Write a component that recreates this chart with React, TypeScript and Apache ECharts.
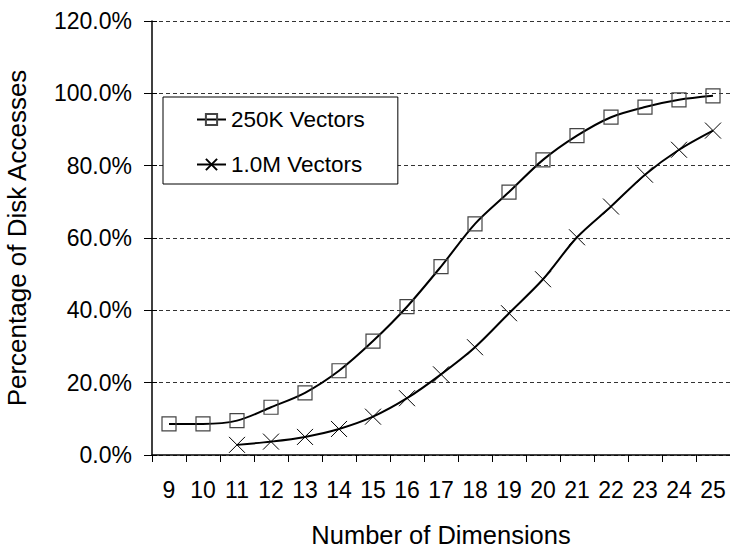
import React, { useEffect, useRef } from "react";
import * as echarts from "echarts";

// Number of dimensions along the x axis
const dimensions = ["9", "10", "11", "12", "13", "14", "15", "16", "17", "18", "19", "20", "21", "22", "23", "24", "25"];

// Percentage of disk accesses for each data set size
const vectors250K = [8.6, 8.6, 9.5, 13.2, 17.2, 23.3, 31.5, 41.0, 52.1, 63.9, 72.7, 81.6, 88.3, 93.4, 96.2, 98.2, 99.3];
const vectors1M = [null, null, 2.8, 3.7, 5.0, 7.2, 10.6, 15.7, 22.3, 29.8, 39.2, 48.6, 60.2, 68.7, 77.5, 84.4, 89.7];

const seriesNames = ["250K Vectors", "1.0M Vectors"];

const FONT = "'Liberation Sans', Arial, sans-serif";
const CROSS = "path://M0,0L10,10M10,0L0,10";

export default function App() {
  const ref = useRef<HTMLDivElement>(null);

  useEffect(() => {
    if (!ref.current) return;
    const chart = echarts.init(ref.current, null, { renderer: "svg" });
    chart.setOption({
      animation: false,
      backgroundColor: "#fff",
      textStyle: { fontFamily: FONT },
      grid: { left: 152, right: 0, top: 21, bottom: 93, containLabel: false, outerBoundsMode: "none" },
      legend: {
        orient: "vertical",
        left: 163,
        top: 97,
        padding: [11, 33, 8, 33],
        itemWidth: 29,
        itemHeight: 14,
        itemGap: 22,
        backgroundColor: "#fff",
        borderColor: "#000",
        borderWidth: 1,
        borderRadius: 0,
        textStyle: { fontFamily: FONT, fontSize: 22.5, color: "#000" },
        data: seriesNames,
      },
      xAxis: {
        type: "category",
        data: dimensions,
        boundaryGap: true,
        name: "Number of Dimensions",
        nameLocation: "middle",
        nameGap: 67,
        nameTextStyle: { fontFamily: FONT, fontSize: 25.5, lineHeight: 25, color: "#000" },
        axisLine: { lineStyle: { color: "#000", width: 1.5 } },
        axisTick: { show: true, length: 7, alignWithLabel: false, lineStyle: { color: "#000", width: 1 } },
        axisLabel: { fontFamily: FONT, fontSize: 23, color: "#000", margin: 23, interval: 0 },
        splitLine: { show: false },
      },
      yAxis: [
        {
          type: "value",
          min: 0,
          max: 120,
          interval: 20,
          name: "Percentage of Disk Accesses",
          nameLocation: "middle",
          nameGap: 122,
          nameTextStyle: { fontFamily: FONT, fontSize: 26, color: "#000" },
          axisLine: { show: true, lineStyle: { color: "#000", width: 1.5 } },
          axisTick: { show: true, length: 8, lineStyle: { color: "#000", width: 1 } },
          axisLabel: {
            fontFamily: FONT,
            fontSize: 23,
            color: "#000",
            margin: 20,
            formatter: (v: number) => v.toFixed(1) + "%",
          },
          splitLine: { show: true, lineStyle: { color: "#333", width: 1, type: [4, 3] } },
        },
        {
          // inner half of the crossing tick marks
          type: "value",
          position: "left",
          min: 0,
          max: 120,
          interval: 20,
          axisLine: { show: false },
          axisTick: { show: true, inside: true, length: 5, lineStyle: { color: "#000", width: 1 } },
          axisLabel: { show: false },
          splitLine: { show: false },
        },
      ],
      series: [
        {
          name: seriesNames[0],
          type: "line",
          data: vectors250K,
          smooth: 0.3,
          symbol: "rect",
          symbolSize: 14,
          lineStyle: { color: "#000", width: 2 },
          itemStyle: { color: "rgba(0,0,0,0)", borderColor: "#444", borderWidth: 1.2 },
          z: 3,
        },
        {
          name: seriesNames[1],
          type: "line",
          data: vectors1M,
          smooth: 0.3,
          symbol: CROSS,
          symbolSize: 16,
          lineStyle: { color: "#000", width: 2 },
          itemStyle: { color: "rgba(0,0,0,0)", borderColor: "#000", borderWidth: 1 },
          z: 3,
        },
      ],
    });
    return () => chart.dispose();
  }, []);

  return (
    <div
      ref={ref}
      style={{ position: "fixed", left: 0, top: 0, width: 730, height: 548, background: "#fff" }}
    />
  );
}
